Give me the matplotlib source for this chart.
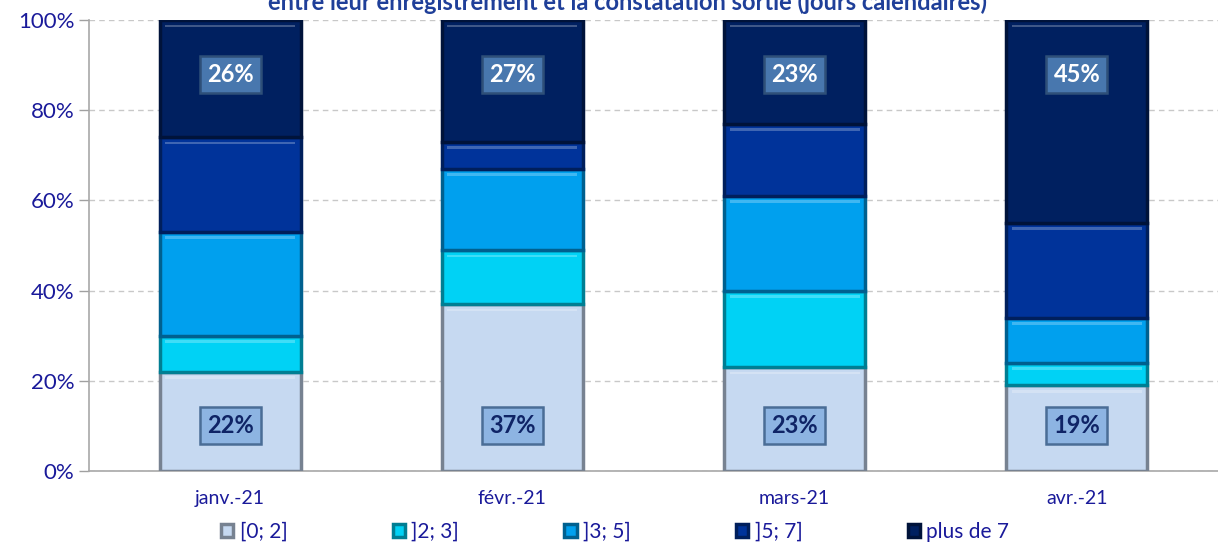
import matplotlib.pyplot as plt
import matplotlib.colors as mcolors
import numpy as np

plt.rcParams['font.family'] = ['Lato', 'DejaVu Sans']

months = ['janv.-21', 'févr.-21', 'mars-21', 'avr.-21']
classes = ['[0; 2]', ']2; 3]', ']3; 5]', ']5; 7]', 'plus de 7']
shares = {
    '[0; 2]':    [22, 37, 23, 19],
    ']2; 3]':    [8, 12, 17, 5],
    ']3; 5]':    [23, 18, 21, 10],
    ']5; 7]':    [21, 6, 16, 21],
    'plus de 7': [26, 27, 23, 45],
}
colors = ['#C6D9F1', '#00D2F5', '#00A0EE', '#00339A', '#002060']
title = 'entre leur enregistrement et la constatation sortie (jours calendaires)'

txt_blue = '#1A1A9A'

fig = plt.figure(figsize=(12.18, 5.56), dpi=100)
ax = fig.add_axes([89 / 1218, 85 / 556, 1 - 89 / 1218, 451 / 556])

x = np.arange(len(months))
bottom = np.zeros(len(months))
for name, col in zip(classes, colors):
    vals = np.array(shares[name], dtype=float)
    edge = tuple(c * 0.6 for c in mcolors.to_rgb(col))
    ax.bar(x, vals, 0.5, bottom=bottom, color=col, edgecolor=edge,
           linewidth=2.5, label=name, zorder=3)
    # light top highlight for the bevel look
    ax.bar(x, np.full(len(months), 0.6), 0.46, bottom=bottom + vals - 1.6,
           color='white', alpha=0.25, linewidth=0, zorder=4)
    bottom += vals

# data labels: first class near the bottom, last class near the top
for i in range(len(months)):
    ax.text(x[i], 10, f"{shares['[0; 2]'][i]}%", ha='center', va='center',
            fontsize=17, fontweight='bold', color='#0F2466', zorder=5,
            bbox=dict(boxstyle='square,pad=0.3', fc='#8DB4E2',
                      ec='#4A6D96', lw=1.8))
    ax.text(x[i], 88, f"{shares['plus de 7'][i]}%", ha='center', va='center',
            fontsize=17, fontweight='bold', color='white', zorder=5,
            bbox=dict(boxstyle='square,pad=0.3', fc='#4877AE',
                      ec='#2E4F78', lw=1.8))

ax.set_xlim(-0.5, 3.5)
ax.set_ylim(0, 100)
ax.set_yticks(range(0, 101, 20))
ax.set_yticklabels([f'{v}%' for v in range(0, 101, 20)])
ax.set_xticks(x)
ax.set_xticklabels(months)
ax.tick_params(axis='y', colors='#A0A0A0', labelcolor=txt_blue, labelsize=16,
               length=7, width=1)
ax.tick_params(axis='x', length=0, labelcolor=txt_blue, labelsize=14, pad=14)
ax.grid(axis='y', color='#C8C8C8', linestyle=(0, (4, 3)), linewidth=1, zorder=0)
for s in ['top', 'right']:
    ax.spines[s].set_visible(False)
for s in ['left', 'bottom']:
    ax.spines[s].set_color('#A8A8A8')
    ax.spines[s].set_linewidth(1.2)

handles, labels = ax.get_legend_handles_labels()
leg = fig.legend(handles, labels, loc='center', bbox_to_anchor=(0.505, 24 / 556),
                 ncol=5, frameon=False, fontsize=15, handlelength=0.6,
                 handleheight=0.6, handletextpad=0.3, columnspacing=5.05)
for t in leg.get_texts():
    t.set_color(txt_blue)

# the title sits partly above the top edge, as in the source image
fig.text(0.515, 1 - 2 / 556, title, ha='center', va='center', fontsize=17,
         fontweight='bold', color='#1F3F99')

fig.savefig('out.png', dpi=100)
